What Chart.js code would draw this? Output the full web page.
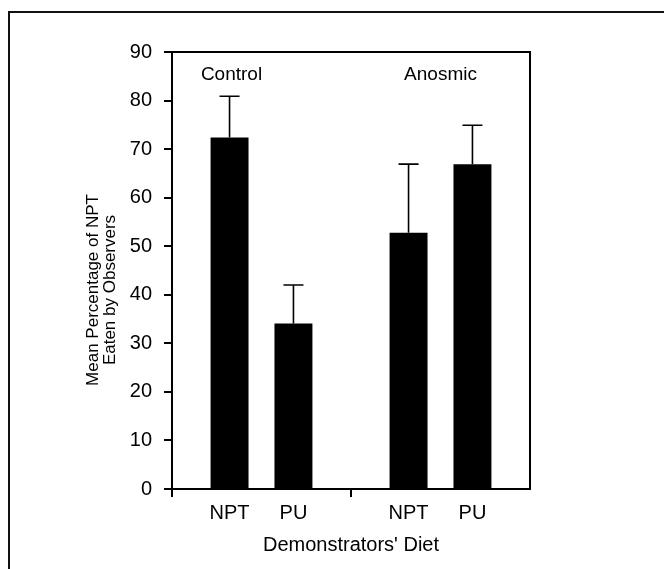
<!DOCTYPE html>
<html><head><meta charset="utf-8">
<script src="https://cdn.jsdelivr.net/npm/chart.js@4.4.1/dist/chart.umd.min.js"></script>
<style>
html,body{margin:0;padding:0;background:#fff;overflow:hidden}
#wrap{position:relative;width:664px;height:569px;overflow:hidden}
#frame{position:absolute;left:8px;top:11px;width:700px;height:600px;border-top:2px solid #111;border-left:2px solid #111;pointer-events:none}
canvas{position:absolute;left:0;top:0}
</style></head><body>
<div id="wrap"><canvas id="c" width="664" height="569"></canvas><div id="frame"></div></div>
<script>
const groups = ['Control', 'Anosmic'];
const diets = ['NPT', 'PU'];
const nptMean = [72.4, 52.8];
const nptErr = [8.5, 14.1];
const puMean = [34.1, 66.9];
const puErr = [7.9, 8.0];
const yMin = 0, yMax = 90, yStep = 10;
const xTitle = "Demonstrators' Diet";
const yTitle = ['Mean Percentage of NPT', 'Eaten by Observers'];
const errs = [nptErr, puErr];

const SANS = "'Liberation Sans', Arial, sans-serif";
const groupLabelDx = [-30, 0];

const overlay = {
  id: 'overlay',
  afterDatasetsDraw(chart) {
    const {ctx, chartArea: a, scales: {x, y}} = chart;
    ctx.save();
    ctx.strokeStyle = '#000';
    ctx.fillStyle = '#000';
    // top and right frame
    ctx.lineWidth = 2;
    ctx.beginPath();
    ctx.moveTo(a.left, a.top); ctx.lineTo(a.right, a.top); ctx.lineTo(a.right, a.bottom);
    ctx.stroke();
    // error bars + diet labels
    ctx.lineWidth = 1.6;
    ctx.textAlign = 'center';
    ctx.textBaseline = 'middle';
    ctx.font = '20px ' + SANS;
    chart.data.datasets.forEach((ds, di) => {
      const meta = chart.getDatasetMeta(di);
      meta.data.forEach((bar, i) => {
        const base = y.getPixelForValue(ds.data[i]);
        const top = y.getPixelForValue(ds.data[i] + errs[di][i]);
        ctx.beginPath();
        ctx.moveTo(bar.x, base); ctx.lineTo(bar.x, top);
        ctx.moveTo(bar.x - 10, top); ctx.lineTo(bar.x + 10, top);
        ctx.stroke();
        ctx.fillText(diets[di], bar.x, a.bottom + 24);
      });
    });
    // group labels
    ctx.font = '19px ' + SANS;
    groups.forEach((g, i) => ctx.fillText(g, x.getPixelForValue(i) + groupLabelDx[i], y.getPixelForValue(85.4)));
    // y title
    ctx.font = '17px ' + SANS;
    yTitle.forEach((t, i) => {
      ctx.save();
      ctx.translate(93 + i * 17, 290);
      ctx.rotate(-Math.PI / 2);
      ctx.fillText(t, 0, 0);
      ctx.restore();
    });
    ctx.restore();
  }
};

new Chart(document.getElementById('c'), {
  type: 'bar',
  data: {
    labels: groups,
    datasets: [
      {label: diets[0], data: nptMean, backgroundColor: '#000', borderWidth: 0},
      {label: diets[1], data: puMean, backgroundColor: '#000', borderWidth: 0}
    ]
  },
  options: {
    responsive: false,
    animation: false,
    barPercentage: 0.594,
    categoryPercentage: 0.714,
    layout: {padding: {left: 0, top: 52, right: 134, bottom: 0}},
    plugins: {legend: {display: false}, tooltip: {enabled: false}},
    scales: {
      x: {
        afterFit(s) { s.height = 80; },
        ticks: {display: false},
        grid: {
          drawOnChartArea: false, tickLength: 8, lineWidth: 2,
          color: (c) => c.type === 'tick' ? '#000' : 'rgba(0,0,0,0)'
        },
        border: {color: '#000', width: 2},
        title: {display: true, text: xTitle, color: '#000',
          font: {family: SANS, size: 20, lineHeight: 1.2}, padding: {top: 0, bottom: 12}}
      },
      y: {
        min: yMin, max: yMax,
        afterFit(s) { s.width = 172; },
        ticks: {stepSize: yStep, color: '#000', padding: 12, font: {family: SANS, size: 20}},
        grid: {drawOnChartArea: false, tickLength: 8, lineWidth: 2, color: '#000'},
        border: {color: '#000', width: 2}
      }
    }
  },
  plugins: [overlay]
});
</script>
</body></html>
